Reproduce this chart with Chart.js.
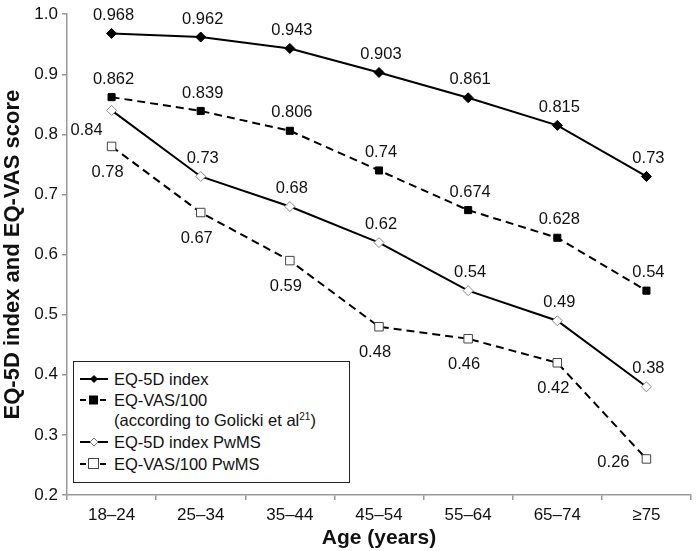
<!DOCTYPE html>
<html>
<head>
<meta charset="utf-8">
<script src="https://cdn.jsdelivr.net/npm/chart.js@4/dist/chart.umd.min.js"></script>
<style>
  html, body { margin: 0; padding: 0; background: #fff; }
  #wrap { position: relative; width: 698px; height: 551px; }
  #legend {
    position: absolute; left: 73px; top: 361px; width: 275px; height: 120px;
    border: 1px solid #222; background: #fff;
    font-family: "Liberation Sans", Arial, sans-serif; font-size: 16.5px; color: #111;
  }
  .row { position: absolute; left: 0; height: 20px; }
  .row svg { position: absolute; left: 5px; top: 0; }
  .row span { position: absolute; left: 40px; top: 0; white-space: nowrap; line-height: 20px; }
  sup { font-size: 10px; vertical-align: top; position: relative; top: -3px; }
</style>
</head>
<body>
<div id="wrap">
  <canvas id="c" width="698" height="551"></canvas>
  <div id="legend">
    <div class="row" style="top:7px">
      <svg width="30" height="20"><line x1="1" y1="10" x2="29" y2="10" stroke="#000" stroke-width="2"/><polygon points="15,6 19,10 15,14 11,10" fill="#000"/></svg>
      <span>EQ-5D index</span>
    </div>
    <div class="row" style="top:28px">
      <svg width="30" height="20"><line x1="1" y1="10" x2="29" y2="10" stroke="#000" stroke-width="2" stroke-dasharray="6,4"/><rect x="10" y="5.5" width="9" height="9" fill="#000"/></svg>
      <span>EQ-VAS/100<br>(according to Golicki et al<sup>21</sup>)</span>
    </div>
    <div class="row" style="top:70px">
      <svg width="30" height="20"><line x1="1" y1="10" x2="29" y2="10" stroke="#000" stroke-width="2"/><polygon points="15,6 19,10 15,14 11,10" fill="#fff" stroke="#777" stroke-width="1"/></svg>
      <span>EQ-5D index PwMS</span>
    </div>
    <div class="row" style="top:92px">
      <svg width="30" height="20"><line x1="1" y1="10" x2="29" y2="10" stroke="#000" stroke-width="2" stroke-dasharray="6,4"/><rect x="9.5" y="4.5" width="10" height="10" fill="#fff" stroke="#444" stroke-width="1"/></svg>
      <span>EQ-VAS/100 PwMS</span>
    </div>
  </div>
</div>
<script>
const ageGroups = ['18–24', '25–34', '35–44', '45–54', '55–64', '65–74', '≥75'];
const eq5dIndex = [0.968, 0.962, 0.943, 0.903, 0.861, 0.815, 0.73];
const eqVas = [0.862, 0.839, 0.806, 0.74, 0.674, 0.628, 0.54];
const eq5dPwms = [0.84, 0.73, 0.68, 0.62, 0.54, 0.49, 0.38];
const eqVasPwms = [0.78, 0.67, 0.59, 0.48, 0.46, 0.42, 0.26];
const valueLabels = [
  ['0.968', '0.962', '0.943', '0.903', '0.861', '0.815', '0.73'],
  ['0.862', '0.839', '0.806', '0.74', '0.674', '0.628', '0.54'],
  ['0.84', '0.73', '0.68', '0.62', '0.54', '0.49', '0.38'],
  ['0.78', '0.67', '0.59', '0.48', '0.46', '0.42', '0.26']
];
// where each value label sits relative to its point
const labelPlace = [
  ['top', 'top', 'top', 'top', 'top', 'top', 'top'],
  ['top', 'top', 'top', 'top', 'top', 'top', 'top'],
  ['leftlow', 'top', 'top', 'top', 'top', 'top', 'top'],
  ['bottom', 'bottom', 'bottom', 'bottom', 'bottom', 'bottom', 'left']
];

const FONT = '"Liberation Sans", Arial, sans-serif';

const valueLabelPlugin = {
  id: 'valueLabels',
  afterDatasetsDraw(chart) {
    const ctx = chart.ctx;
    ctx.save();
    ctx.font = '16.5px ' + FONT;
    ctx.fillStyle = '#111';
    ctx.textAlign = 'center';
    ctx.textBaseline = 'middle';
    chart.data.datasets.forEach((ds, di) => {
      chart.getDatasetMeta(di).data.forEach((pt, i) => {
        let x = pt.x, y = pt.y;
        const p = labelPlace[di][i];
        if (p === 'top') { x += 2; y -= 18; }
        else if (p === 'bottom') { x -= 4; y += 26; }
        else if (p === 'leftlow') { x -= 25; y += 20; }
        else if (p === 'left') { x -= 33; y += 4; }
        ctx.fillText(valueLabels[di][i], x, y);
      });
    });
    ctx.restore();
  }
};

new Chart(document.getElementById('c'), {
  type: 'line',
  data: {
    labels: ageGroups,
    datasets: [
      { label: 'EQ-5D index', data: eq5dIndex, borderColor: '#000', borderWidth: 2,
        pointStyle: 'rectRot', pointRadius: 5, backgroundColor: '#000', pointBorderColor: '#000', pointBorderWidth: 1 },
      { label: 'EQ-VAS/100', data: eqVas, borderColor: '#000', borderWidth: 2, borderDash: [8, 5],
        pointStyle: 'rect', pointRadius: 5, backgroundColor: '#000', pointBorderColor: '#000', pointBorderWidth: 1 },
      { label: 'EQ-5D index PwMS', data: eq5dPwms, borderColor: '#000', borderWidth: 2,
        pointStyle: 'rectRot', pointRadius: 5, backgroundColor: '#fff', pointBorderColor: '#888', pointBorderWidth: 1 },
      { label: 'EQ-VAS/100 PwMS', data: eqVasPwms, borderColor: '#000', borderWidth: 2, borderDash: [8, 5],
        pointStyle: 'rect', pointRadius: 6, backgroundColor: '#fff', pointBorderColor: '#444', pointBorderWidth: 1 }
    ]
  },
  options: {
    responsive: false,
    animation: false,
    layout: { padding: { top: 6, right: 2, left: 0, bottom: 0 } },
    plugins: { legend: { display: false }, tooltip: { enabled: false } },
    scales: {
      x: {
        offset: true,
        grid: { display: true, offset: true, drawOnChartArea: false, drawTicks: true, tickLength: 5, color: '#999', lineWidth: 1.5 },
        border: { color: '#999', width: 1.5 },
        ticks: { color: '#111', font: { family: FONT, size: 17 }, padding: 5, maxRotation: 0 },
        title: { display: true, text: 'Age (years)', color: '#111', font: { family: FONT, size: 21, weight: 'bold' }, padding: { top: 0, bottom: 0 } },
        afterFit(scale) { scale.height = 56; }
      },
      y: {
        min: 0.2, max: 1.0,
        grid: { display: true, drawOnChartArea: false, drawTicks: true, tickLength: 5, color: '#999', lineWidth: 1.5 },
        border: { color: '#999', width: 1.5 },
        ticks: { stepSize: 0.1, color: '#111', font: { family: FONT, size: 17 }, padding: 4,
          callback: v => Number(v).toFixed(1) },
        title: { display: true, text: 'EQ-5D index and EQ-VAS score', color: '#111', font: { family: FONT, size: 22, weight: 'bold' }, padding: { top: 0, bottom: 2 } },
        afterFit(scale) { scale.width = 67; }
      }
    }
  },
  plugins: [valueLabelPlugin]
});
</script>
</body>
</html>
